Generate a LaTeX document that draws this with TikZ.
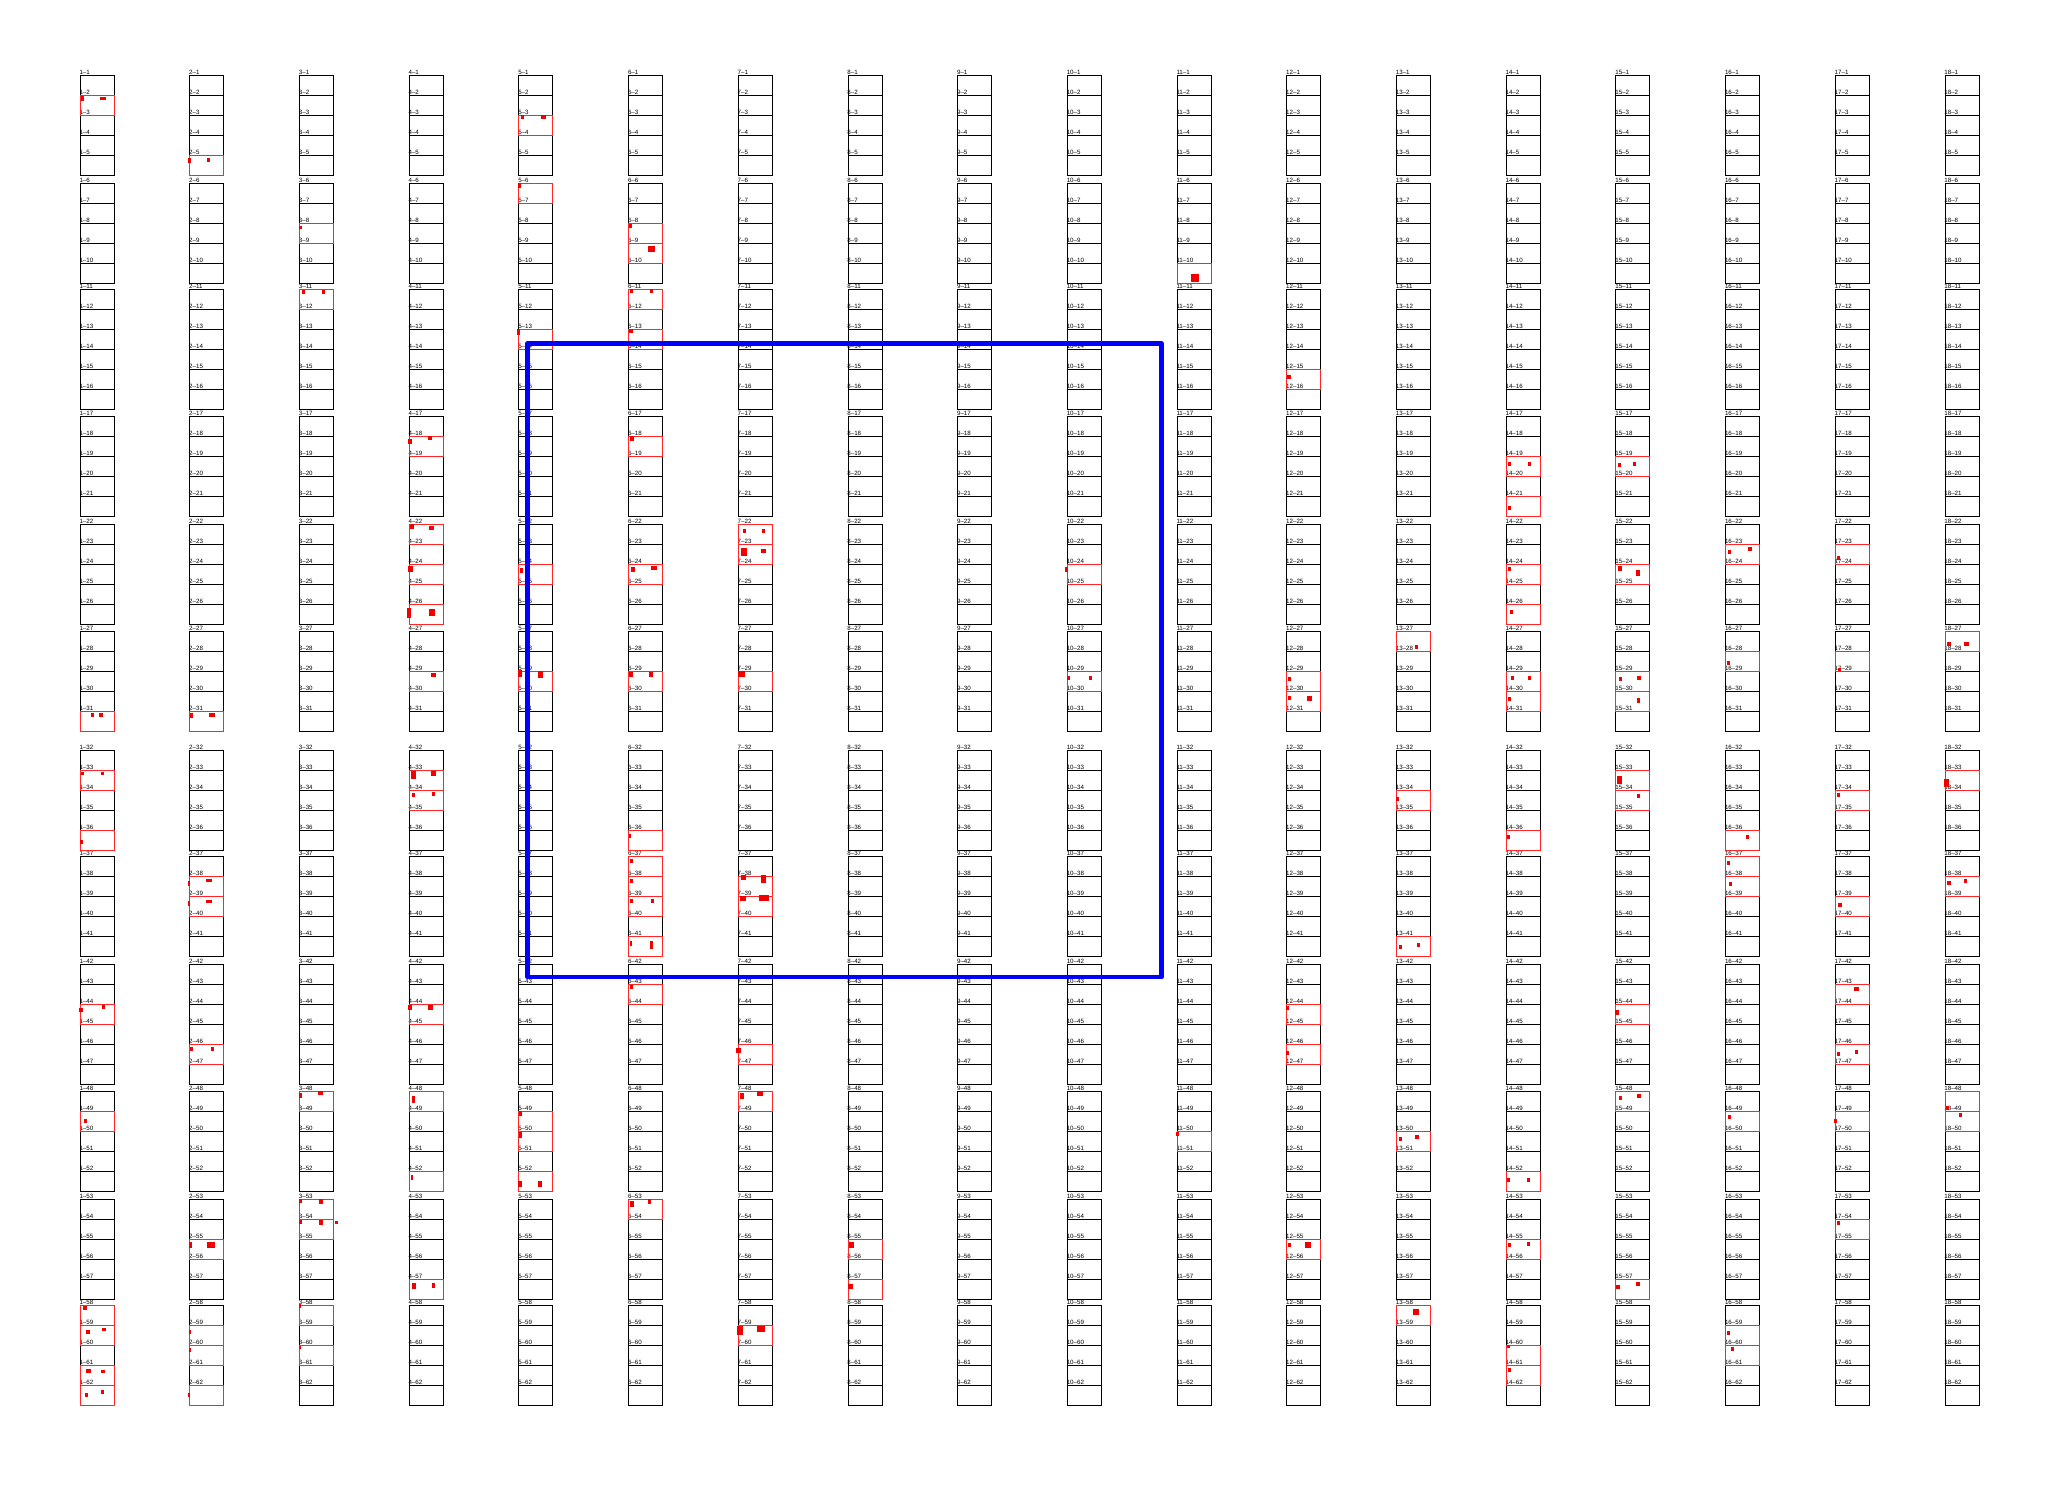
\documentclass[tikz,border=0pt]{standalone}
\usepackage{fontspec}
\setmainfont{Liberation Sans}
\def\reddots{1/2/1/1/3.3/5, 1/2/20.3/2.3/6/3, 1/31/10.7/2.2/3.7/4, 1/31/19.3/2.2/3.3/4, 1/33/1/1.8/3.3/3.6, 1/33/21/1.8/3.3/3.6, 1/36/0/10/3.3/4.4, 1/44/-0.7/3.5/4/4.4, 1/44/21.7/0.5/3/4, 1/49/4.3/8/2.7/4, 1/58/3/1.3/4/4, 1/59/5.7/5.4/4.7/4, 1/59/21.7/2.7/4.3/3.6, 1/61/6.3/4/4.7/4, 1/61/20.7/4.5/4.3/3.6, 1/62/5.3/7.6/2.7/4.4, 1/62/21/4.5/3/4,
2/5/-1.7/3.5/2.7/4.4, 2/5/17.7/3.5/3/4, 2/31/0.7/2.2/2.7/4.4, 2/31/19.7/2/6/4.4, 2/38/-1.7/4.5/2/5, 2/38/16.3/2.7/5.7/3.6, 2/39/-1.7/5/2/5.4, 2/39/16.3/3.6/5.7/3.6, 2/46/0.7/3/2.7/3.6, 2/46/21/3/3/3.6, 2/55/-1/2.7/3.3/6.7, 2/55/17.7/2.7/7.7/6.3, 2/59/-0.7/4.5/1.7/4.5, 2/60/-1/2.7/2/4, 2/62/-1.3/7.6/2/4.4,
3/8/0/3/2.7/3.5, 3/11/3/1.3/2.7/4, 3/11/23/1/2.7/3.5, 3/48/0/1.8/3/5.4, 3/48/19/0/4.3/4, 3/53/0/0/2.7/4, 3/53/19.3/0/4/5, 3/54/-0.7/1/3/4, 3/54/19.3/1/4.7/4.5, 3/54/36/1.8/2.3/2.7, 3/58/0/-1/1.7/3.6, 3/60/0/1/1.7/2.7,
4/18/-0.7/2.6/3.3/5.3, 4/18/18.7/0/4.3/4, 4/22/1.3/0.4/3.7/4.4, 4/22/20.3/1.8/5/4, 4/24/-1/2.2/5/6.2, 4/26/-2/4.4/4/9.2, 4/26/20.3/5.3/5.7/6.6, 4/29/21.7/2.2/4.7/4, 4/33/2.3/1/4.3/8, 4/33/22.3/1/4.3/5, 4/34/2.7/2.7/2.7/4, 4/34/22.7/2.2/3/4, 4/44/-1/1.3/3.7/4.5, 4/44/19/1.3/5/4.5, 4/48/3/5.4/3/7, 4/52/1.7/3.6/2.3/5, 4/57/3/3.6/4/6.2, 4/57/23.3/4.4/2.3/4.4,
5/3/2/0.4/3.3/4, 5/3/21.7/0.4/5/3.5, 5/6/-1/0.4/3/4.8, 5/13/-2/0.4/3.3/5.7, 5/24/1/4.4/3/4.4, 5/29/-0.7/-1/4/6.6, 5/29/19/0.4/5/7, 5/49/0/0.4/3/5, 5/50/0/1.3/3/5.4, 5/52/-1.3/10/4/5.8, 5/52/18.7/10.3/4/5.4,
6/8/0/1.3/3/3.5, 6/9/19.3/2.6/7/6.2, 6/11/1/0/3.3/4, 6/11/21/0/3.3/4, 6/13/0.3/0/4/4, 6/18/1/0/4.7/4.8, 6/24/2.7/2.6/4/5.3, 6/24/22.7/2.2/6/4, 6/29/0/1.3/4/4.8, 6/29/20/1.3/4.7/4.4, 6/36/0/4/2.7/3.6, 6/37/1.3/2.7/2.7/4, 6/38/1.3/2.7/2.7/4, 6/39/1.3/3/2.7/4, 6/39/22.3/3/2.7/4, 6/41/1/4.5/2.3/5, 6/41/21.3/4.5/3.3/8, 6/43/1/1/3/4, 6/53/1.7/2.2/3.7/5.8, 6/53/19.3/0.4/3/4.5,
7/22/4.3/4.8/3.3/4.4, 7/22/23.7/4.8/2.7/4.4, 7/23/3/4.4/5.3/7.5, 7/23/22.3/4.8/5.7/4, 7/29/0/0/7/5.7, 7/38/2.7/-0.9/4.7/4.5, 7/38/22.3/-0.9/5.7/7.6, 7/39/2/-0.4/6/5, 7/39/20.7/-0.9/10/6.2, 7/46/-2.7/3.6/5.7/5, 7/48/1.7/1.8/4.3/5.8, 7/48/19/0/6/5.4, 7/59/-1.3/1.3/6/8.5, 7/59/18.3/1.3/8/5.8,
8/55/1/3/4.7/5.8, 8/57/0.3/5/5/4.5,
10/24/-2/3/3/5, 10/29/0/5/3/4, 10/29/22/5/3/4,
11/10/14/11/8/8, 11/50/-1/1/3/4,
12/15/0.7/6/3.3/4.3, 12/29/1/6/3/4, 12/30/1/5/3/4, 12/30/20/5/5/5, 12/44/-1/2/3/4, 12/46/-1/7/3/4, 12/55/1/4/3/4, 12/55/18/3/6/6,
13/27/19/14/3/4, 13/34/0/7/3/4, 13/41/3/9/3/4, 13/41/21/7/3/4, 13/50/3/6/3/4, 13/50/19/4/4/4, 13/58/17/4/6/6,
14/19/2/6/3/4, 14/19/22/6/3/4, 14/21/2/10/3/4, 14/24/2/3/3/4, 14/26/4/6/3/4, 14/29/5/5/3/4, 14/29/22/5/3/4, 14/30/2/6/3/4, 14/36/1/5/3/4, 14/52/1/7/3/4, 14/52/21/7/3/4, 14/55/2/4/3/4, 14/55/21/3/3/4, 14/60/1/0/3/3, 14/61/2/3/3/4,
15/19/2/7/3/4, 15/19/17/6/3/4, 15/24/2/2/4/5, 15/24/20/6/4/6, 15/29/3/6/3/4, 15/29/21/5/4/4, 15/30/21/7/3/5, 15/33/1/6/5/8, 15/34/21/4/3/4, 15/44/-1/6/4/5, 15/48/3/5/3/4, 15/48/21/3/4/4, 15/57/0/6/4/4, 15/57/20/3/4/4,
16/23/2/6/3/4, 16/23/22/3/4/4, 16/28/1/10/3/4, 16/36/20/5/3/4, 16/37/1/5/3/4, 16/38/3/6/3/4, 16/49/2/4/3/4, 16/59/1/6/3/4, 16/60/5/2/3/4,
17/23/2/12/3/4, 17/28/3/17/3/3, 17/34/2/3/3/4, 17/39/3/7/4/4, 17/43/19/3/5/4, 17/46/2/8/3/4, 17/46/20/6/3/4, 17/49/-1/8/3/4, 17/54/2/2/3/4,
18/27/2/11/4/4, 18/27/19/11/5/4, 18/33/-1/9/5/8, 18/38/2/5/4/4, 18/38/19/3/3/4, 18/48/1/15/3/4, 18/49/14/2/3/4}
\begin{document}
\begin{tikzpicture}[x=1bp,y=-1bp,
  cellbox/.style={draw=black, line width=0.8bp, inner sep=0pt, outer sep=0pt, minimum width=34bp, minimum height=20bp, anchor=north west},
  lab/.style={anchor=south west, inner sep=0pt, outer sep=0pt, font=\fontsize{6.2}{7}\selectfont, xshift=-0.5bp, yshift=0.2bp},
  redcell/.style={draw=red!85!white, line width=0.7bp},
  defect/.style={fill=red!95!black},
  selbox/.style={draw=blue, line width=4.5bp, line join=round, inner sep=0pt, outer sep=0pt, anchor=north west}]
\useasboundingbox (0,0) rectangle (2060,1493);
\foreach \cc in {1,...,18}{
  \pgfmathsetmacro\xl{80+109.7*(\cc-1)}
  \foreach \bt/\bs/\bn in {75/1/5, 183/6/5, 289/11/6, 416/17/5, 524/22/5, 631/27/5, 750/32/5, 856/37/5, 964/42/6, 1091/48/5, 1199/53/5, 1305/58/5}{
    \foreach \ii in {1,...,\bn}{
      \pgfmathtruncatemacro\rr{\bs+\ii-1}
      \pgfmathsetmacro\yy{\bt+20*(\ii-1)}
      \node[cellbox] (c\cc-\rr) at (\xl,\yy) {};
      \node[lab] (l\cc-\rr) at (c\cc-\rr.north west) {\cc--\rr};
    }
  }
}
\foreach \cc/\rr/\dx/\dy/\w/\h in \reddots {
  \draw[redcell] (c\cc-\rr.north west) rectangle (c\cc-\rr.south east);
}
\foreach \cc/\rr/\dx/\dy/\w/\h in \reddots {
  \fill[defect, shift={(c\cc-\rr.north west)}] (\dx,\dy) rectangle ++(\w,\h);
}
\node[selbox, minimum width=634bp, minimum height=633.5bp] (sel) at (527.5,343.5) {};
\end{tikzpicture}
\end{document}
